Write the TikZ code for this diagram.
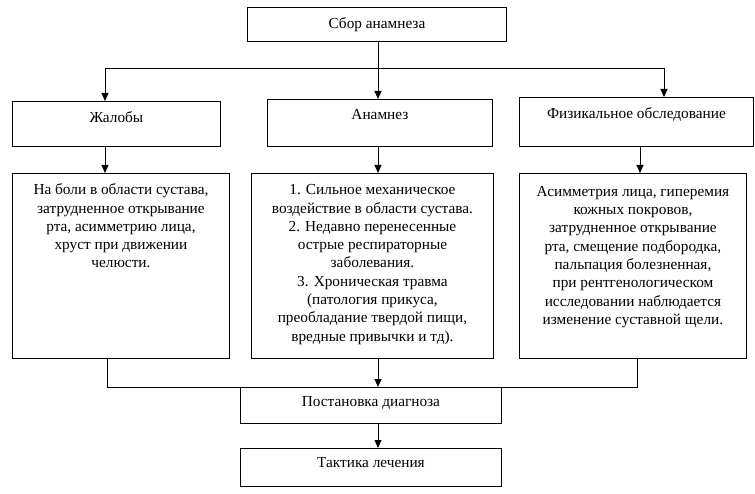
\documentclass[tikz,border=0pt]{standalone}
\usepackage{fontspec}
\setmainfont{Liberation Serif}
\usetikzlibrary{arrows.meta}
\newcommand\mybx[7]{%
  \node[bx, anchor=north west] (#1) at (#2,#3)
  {\parbox[t][\dimexpr#5pt-#3pt\relax][t]{\dimexpr#4pt-#2pt\relax}{\centering\vspace*{#6pt}\strut#7}};}
\begin{document}
\begin{tikzpicture}[x=1pt,y=-1pt,
  bx/.style={draw, line width=0.9pt, inner sep=0pt, font=\fontsize{15.3}{18.3}\selectfont},
  arr/.style={line width=0.9pt, -{Triangle[length=8pt,width=7pt]}},
  ln/.style={line width=0.9pt}]
\useasboundingbox (0,0) rectangle (755,494);
\mybx{sbor}{247}{7}{506}{41}{8.5}{Сбор анамнеза}
\mybx{zhal}{12}{101}{220}{146}{8.5}{Жалобы}
\mybx{anam}{267}{99}{492}{146}{7}{Анамнез}
\mybx{fiz}{519}{97}{753}{146}{8}{Физикальное обследование}
\mybx{d1}{12}{173}{229}{358}{8.5}{На боли в области сустава,\\ затрудненное открывание\\ рта, асимметрию лица,\\ хруст при движении\\ челюсти.}
\mybx{d2}{251}{173}{493}{358}{8.5}{1. Сильное механическое\\ воздействие в области сустава.\\ 2. Недавно перенесенные\\ острые респираторные\\ заболевания.\\ 3. Хроническая травма\\ (патология прикуса,\\ преобладание твердой пищи,\\ вредные привычки и тд).}
\mybx{d3}{519}{173}{746}{358}{10}{Асимметрия лица, гиперемия\\ кожных покровов,\\ затрудненное открывание\\ рта, смещение подбородка,\\ пальпация болезненная,\\ при рентгенологическом\\ исследовании наблюдается\\ изменение суставной щели.}
\mybx{post}{240}{387}{501}{423}{6.5}{Постановка диагноза}
\mybx{takt}{240}{448}{501}{486}{6.5}{Тактика лечения}
% connectors
\coordinate (split) at (378,68);
\coordinate (splitL) at (105,68);
\coordinate (splitR) at (664,68);
\draw[arr] (sbor.south -| split) -- (anam.north -| split);
\draw[ln] (splitL) -- (splitR);
\draw[arr] (splitL) -- (zhal.north -| splitL);
\draw[arr] (splitR) -- (fiz.north -| splitR);
\coordinate (c1) at (105,0);
\coordinate (c3) at (640,0);
\draw[arr] (zhal.south -| c1) -- (d1.north -| c1);
\draw[arr] (anam.south -| split) -- (d2.north -| split);
\draw[arr] (fiz.south -| c3) -- (d3.north -| c3);
\coordinate (jL) at (107,387);
\coordinate (jR) at (637,387);
\draw[ln] (d1.south -| jL) -- (jL) -- (jR) -- (d3.south -| jR);
\draw[arr] (d2.south -| split) -- (post.north -| split);
\draw[arr] (post.south -| split) -- (takt.north -| split);
\end{tikzpicture}
\end{document}
